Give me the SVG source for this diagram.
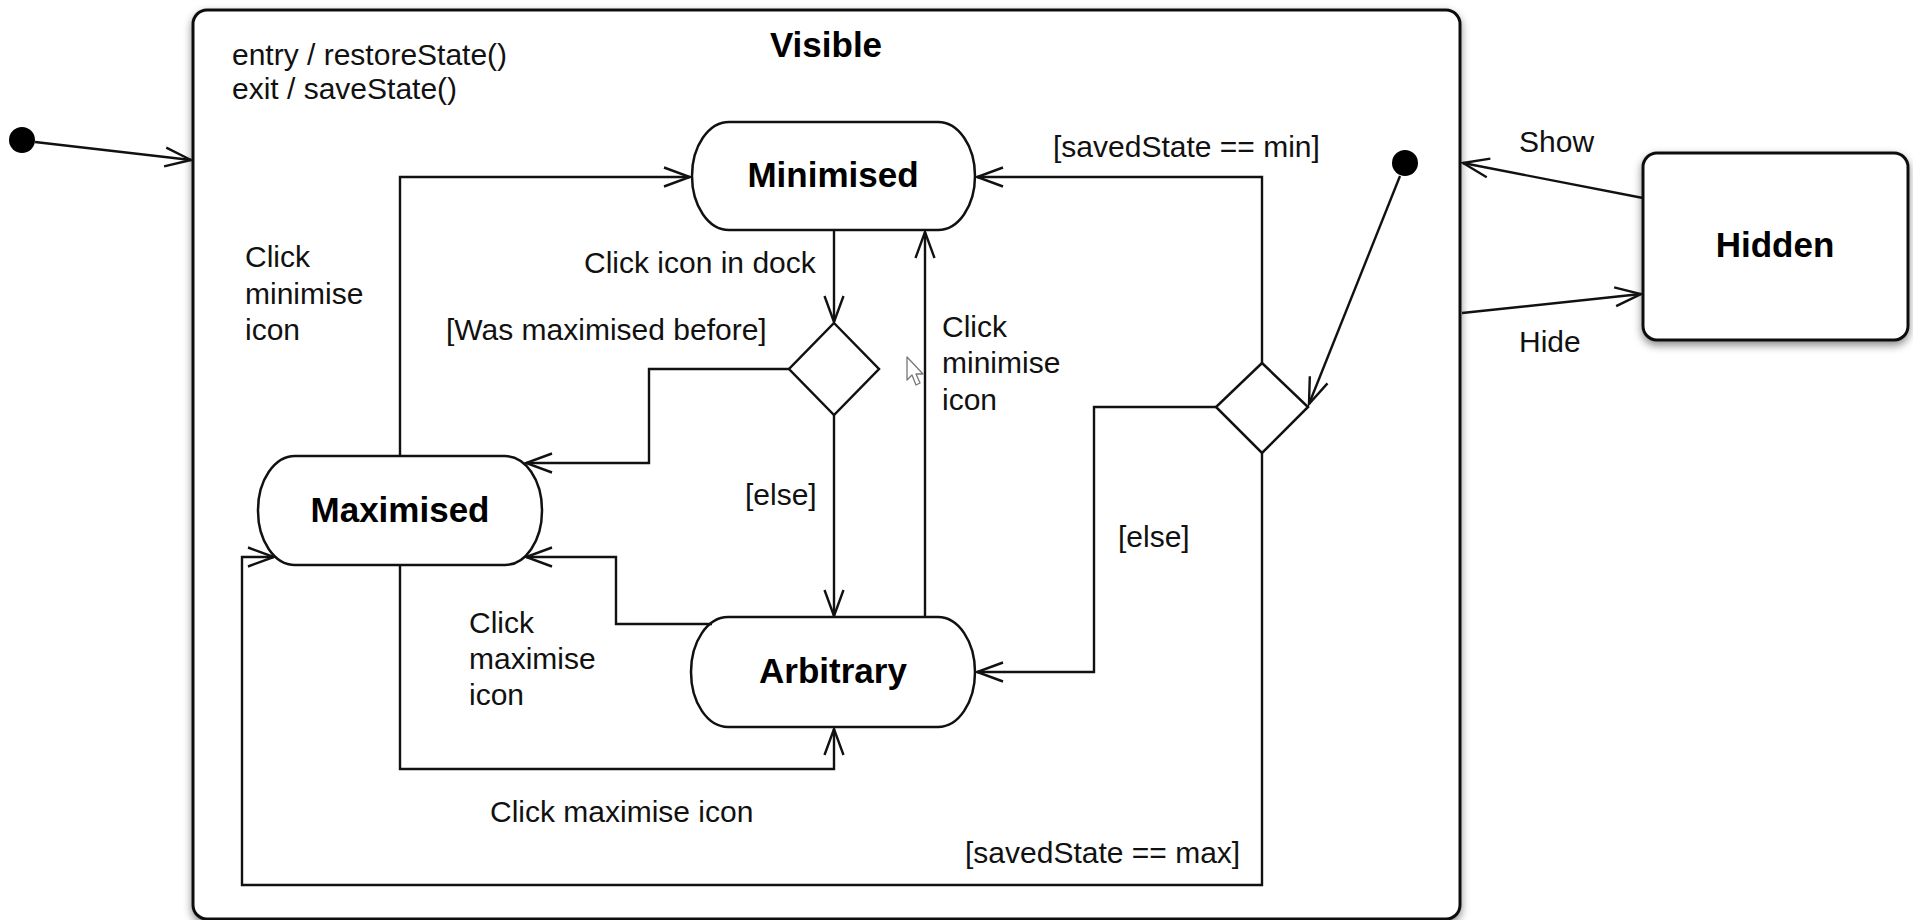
<svg xmlns="http://www.w3.org/2000/svg" width="1913" height="920" viewBox="0 0 1913 920">
  <defs>
    <style>
      .lbl { font-family: "Liberation Sans", Arial, Helvetica, sans-serif; font-size: 30px; fill: #111; }
      .ttl { font-family: "Liberation Sans", Arial, Helvetica, sans-serif; font-size: 35px; font-weight: bold; fill: #000; text-anchor: middle; }
      .state { fill: #fff; stroke: #111; stroke-width: 2.5; }
      .choice { fill: #fff; stroke: #111; stroke-width: 2.5; }
      .edge { fill: none; stroke: #111; stroke-width: 2.4; stroke-linejoin: miter; marker-end: url(#open); }
      .dot { fill: #000; }
    </style>
    <marker id="open" markerUnits="userSpaceOnUse" viewBox="-30 -15 32 30" markerWidth="32" markerHeight="30" refX="0" refY="0" orient="auto">
      <path d="M-26,-9.5 L0,0 L-26,9.5" fill="none" stroke="#111" stroke-width="2.4"/>
    </marker>
    <filter id="shadow" x="-5%" y="-5%" width="110%" height="115%">
      <feDropShadow dx="0" dy="4" stdDeviation="4" flood-color="#000" flood-opacity="0.45"/>
    </filter>
  </defs>

  <rect width="1913" height="920" fill="#fff"/>

  <!-- composite state: Visible -->
  <g id="visible">
    <rect x="193" y="10" width="1267" height="909" rx="14" ry="14" fill="#fff" stroke="#111" stroke-width="3" filter="url(#shadow)"/>
    <text class="ttl" x="826" y="57">Visible</text>
    <text class="lbl" x="232" y="65">entry / restoreState()</text>
    <text class="lbl" x="232" y="99">exit / saveState()</text>
  </g>

  <!-- simple state: Hidden -->
  <g id="hidden">
    <rect x="1643" y="153" width="265" height="187" rx="14" ry="14" fill="#fff" stroke="#111" stroke-width="3" filter="url(#shadow)"/>
    <text class="ttl" x="1775" y="257">Hidden</text>
  </g>

  <!-- initial pseudostates -->
  <g id="init-outer">
    <circle class="dot" cx="22" cy="140" r="13"/>
  </g>
  <g id="init-inner">
    <circle class="dot" cx="1405" cy="163" r="13"/>
  </g>

  <!-- substates -->
  <g id="minimised">
    <rect class="state" x="692" y="122" width="283" height="108" rx="37" ry="54"/>
    <text class="ttl" x="833" y="187">Minimised</text>
  </g>
  <g id="maximised">
    <rect class="state" x="258" y="456" width="284" height="109" rx="37" ry="54"/>
    <text class="ttl" x="400" y="522">Maximised</text>
  </g>
  <g id="arbitrary">
    <rect class="state" x="691" y="617" width="284" height="110" rx="37" ry="55"/>
    <text class="ttl" x="833" y="683">Arbitrary</text>
  </g>

  <!-- choice points -->
  <g id="choice-dock">
    <polygon class="choice" points="834,323 879,369 834,415 789,369"/>
  </g>
  <g id="choice-restore">
    <polygon class="choice" points="1262,363 1308,407 1262,453 1216,407"/>
  </g>

  <!-- transitions -->
  <g id="connectors">
    <path class="edge" d="M35,142 L191,160"/>
    <path class="edge" d="M1400,176 L1309,404"/>
    <path class="edge" d="M1262,363 L1262,177 L977,177"/>
    <path class="edge" d="M1216,407 L1094,407 L1094,672 L977,672"/>
    <path class="edge" d="M1262,453 L1262,885 L242,885 L242,557 L274,557"/>
    <path class="edge" d="M834,230 L834,322"/>
    <path class="edge" d="M789,369 L649,369 L649,463 L526,463"/>
    <path class="edge" d="M834,415 L834,616"/>
    <path class="edge" d="M925,617 L925,232"/>
    <path class="edge" d="M400,456 L400,177 L690,177"/>
    <path class="edge" d="M712,624 L616,624 L616,557 L526,557"/>
    <path class="edge" d="M400,565 L400,769 L834,769 L834,729"/>
    <path class="edge" d="M1643,198 L1463,163"/>
    <path class="edge" d="M1462,313 L1641,294"/>
  </g>

  <!-- transition labels -->
  <g id="labels">
    <text class="lbl" x="245" y="267">Click</text>
    <text class="lbl" x="245" y="304">minimise</text>
    <text class="lbl" x="245" y="340">icon</text>
    <text class="lbl" x="584" y="273">Click icon in dock</text>
    <text class="lbl" x="446" y="340">[Was maximised before]</text>
    <text class="lbl" x="942" y="337">Click</text>
    <text class="lbl" x="942" y="373">minimise</text>
    <text class="lbl" x="942" y="410">icon</text>
    <text class="lbl" x="1053" y="157">[savedState == min]</text>
    <text class="lbl" x="745" y="505">[else]</text>
    <text class="lbl" x="1118" y="547">[else]</text>
    <text class="lbl" x="469" y="633">Click</text>
    <text class="lbl" x="469" y="669">maximise</text>
    <text class="lbl" x="469" y="705">icon</text>
    <text class="lbl" x="490" y="822">Click maximise icon</text>
    <text class="lbl" x="965" y="863">[savedState == max]</text>
    <text class="lbl" x="1519" y="152">Show</text>
    <text class="lbl" x="1519" y="352">Hide</text>
  </g>

  <!-- mouse pointer -->
  <polygon points="907,357 907,380 912,375 916,385 920,383 916,374 923,374" fill="#fff" stroke="#777" stroke-width="1.3" stroke-linejoin="round"/>
</svg>
